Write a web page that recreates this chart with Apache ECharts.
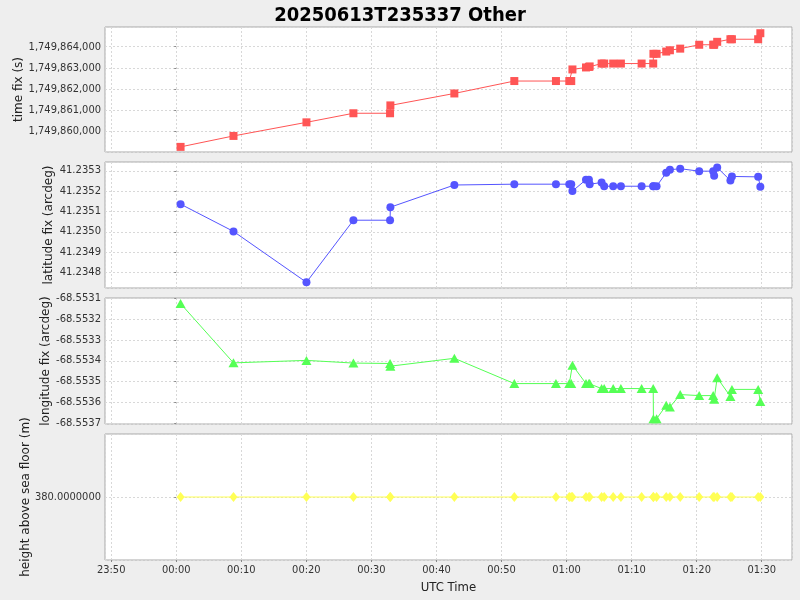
<!DOCTYPE html>
<html>
<head>
<meta charset="utf-8">
<script src="https://cdn.jsdelivr.net/npm/echarts@6/dist/echarts.min.js"></script>
<style>
html,body{margin:0;padding:0;background:#eeeeee;}
#chart{width:800px;height:600px;}
</style>
</head>
<body>
<div id="chart"></div>
<script>
// ---- data ----
const chartTitle = '20250613T235337 Other';
const times = ['00:00:40','00:08:48','00:20:01','00:27:14','00:32:52','00:32:55','00:42:45','00:51:58',
  '00:58:22','01:00:25','01:00:43','01:00:54','01:02:59','01:03:26','01:03:33','01:05:23','01:05:47',
  '01:07:10','01:08:21','01:11:32','01:13:19','01:13:21','01:13:50','01:15:19','01:15:53','01:17:28',
  '01:20:23','01:22:32','01:22:41','01:23:09','01:25:11','01:25:25','01:29:27','01:29:47'];
const timeFix = [1749859244,1749859764,1749860409,1749860840,1749860840,1749861213,1749861780,1749862370,
  1749862370,1749862370,1749862370,1749862920,1749863015,1749863040,1749863062,1749863200,1749863200,
  1749863200,1749863200,1749863200,1749863200,1749863662,1749863662,1749863769,1749863831,1749863908,
  1749864092,1749864092,1749864092,1749864231,1749864354,1749864354,1749864354,1749864640];
const latFix = [41.235136,41.235002,41.234752,41.235057,41.235057,41.235121,41.235230,41.235234,
  41.235234,41.235234,41.235234,41.235200,41.235256,41.235256,41.235234,41.235242,41.235224,
  41.235224,41.235224,41.235224,41.235224,41.235224,41.235224,41.235290,41.235305,41.235310,
  41.235298,41.235298,41.235275,41.235316,41.235252,41.235272,41.235270,41.235221];
const lonFix = [-68.553124,-68.553410,-68.553398,-68.553411,-68.553413,-68.553426,-68.553388,-68.553510,
  -68.553510,-68.553510,-68.553510,-68.553421,-68.553510,-68.553510,-68.553510,-68.553534,-68.553534,
  -68.553534,-68.553534,-68.553534,-68.553534,-68.553680,-68.553680,-68.553615,-68.553623,-68.553563,
  -68.553568,-68.553568,-68.553585,-68.553482,-68.553572,-68.553538,-68.553538,-68.553596];
const heightFix = [380,380,380,380,380,380,380,380,380,380,380,380,380,380,380,380,380,
  380,380,380,380,380,380,380,380,380,380,380,380,380,380,380,380,380];
const xTickLabels = ['23:50','00:00','00:10','00:20','00:30','00:40','00:50','01:00','01:10','01:20','01:30'];
const yNames = ['time fix (s)','latitude fix (arcdeg)','longitude fix (arcdeg)','height above sea floor (m)'];

// ---- helpers ----
function toMin(s){ const p = s.split(':').map(Number); return p[0]*60 + p[1] + p[2]/60; }
function isNice(v, step){ const q = v/step; return Math.abs(q - Math.round(q)) < 1e-3; }
const xs = times.map(toMin);
const pair = arr => arr.map((v,i)=>[xs[i], v]);

const COND = '"DejaVu Sans Condensed", "DejaVu Sans", sans-serif';
const SANS = '"DejaVu Sans", sans-serif';
const gridBase = {left:105, right:8, height:126, show:true, backgroundColor:'#ffffff', borderColor:'#a8a8a8', borderWidth:1};
const grids = [
  Object.assign({}, gridBase, {top:27, height:125}),
  Object.assign({}, gridBase, {top:162}),
  Object.assign({}, gridBase, {top:298}),
  Object.assign({}, gridBase, {top:434})
];
const split = {show:true, lineStyle:{color:'#d8d8d8', type:[2,2], width:1}};

const xAxes = [0,1,2,3].map(i => ({
  type:'value', gridIndex:i, min:-10.95, max:94.65, minInterval:10, maxInterval:10,
  axisLine:{show:false}, splitLine:split,
  axisTick:{show:i===3, length:2, lineStyle:{color:'#888'}},
  axisLabel:{show:i===3, margin:5, fontFamily:COND, fontSize:11, color:'#333',
    showMinLabel:false, showMaxLabel:false,
    formatter: v => isNice(v,10) ? (xTickLabels[Math.round(v/10)+1] || '') : ''},
  name: i===3 ? 'UTC Time' : '', nameLocation:'middle', nameGap:21, nameMoveOverlap:false,
  nameTextStyle:{fontFamily:COND, fontSize:13, color:'#222'}
}));

const ySpecs = [
  {min:1749859001, max:1749864935, step:1000, fmt:v=>Math.round(v).toLocaleString('en-US'), font:COND, size:11, gap:80},
  {min:41.234724, max:41.235343, step:0.0001, fmt:v=>v.toFixed(4), font:SANS, size:10, gap:50},
  {min:-68.553705, max:-68.553097, step:0.0001, fmt:v=>v.toFixed(4), font:SANS, size:10, gap:53},
  {min:379, max:381, step:1, fmt:v=>(Math.abs(v-380)<1e-6 ? v.toFixed(7) : ''), font:COND, size:11, gap:73}
];
const yAxes = ySpecs.map((s,i) => ({
  type:'value', gridIndex:i, min:s.min, max:s.max, minInterval:s.step, maxInterval:s.step, scale:true,
  axisLine:{show:false}, splitLine:split,
  axisTick:{show:true, length:2, lineStyle:{color:'#888'}},
  axisLabel:{margin:4, fontFamily:s.font, fontSize:s.size, color:'#333',
    showMinLabel:false, showMaxLabel:false,
    formatter: v => isNice(v, s.step) ? s.fmt(v) : ''},
  name: yNames[i], nameLocation:'middle', nameRotate:90, nameGap:s.gap, nameMoveOverlap:false,
  nameTextStyle:{fontFamily:SANS, fontSize:12, color:'#222'}
}));

function mkSeries(i, data, color, symbol, size){
  return {type:'line', xAxisIndex:i, yAxisIndex:i, data:pair(data), symbol:symbol, symbolSize:size,
    showSymbol:true, lineStyle:{color:color, width:1}, itemStyle:{color:color}, animation:false, silent:true};
}

const chart = echarts.init(document.getElementById('chart'), null, {renderer:'canvas'});
chart.setOption({
  backgroundColor:'#eeeeee',
  animation:false,
  title:{text:chartTitle, left:'center', top:1,
    textStyle:{fontFamily:COND, fontWeight:'bold', fontSize:20, color:'#000'}},
  grid:grids,
  xAxis:xAxes,
  yAxis:yAxes,
  series:[
    mkSeries(0, timeFix, '#ff5555', 'rect', 8),
    mkSeries(1, latFix, '#5555ff', 'circle', 8),
    mkSeries(2, lonFix, '#55ff55', 'triangle', [10,9]),
    mkSeries(3, heightFix, '#ffff55', 'diamond', [8,10])
  ]
});
</script>
</body>
</html>
